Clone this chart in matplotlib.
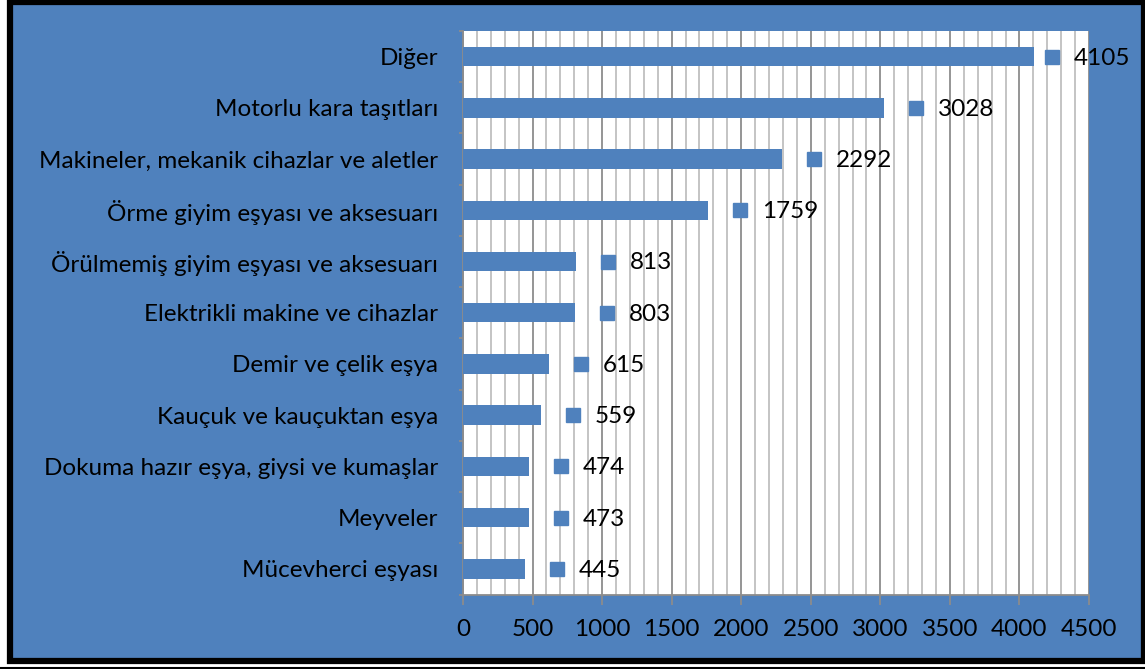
import matplotlib.pyplot as plt
from matplotlib.patches import Rectangle
from matplotlib.ticker import MultipleLocator, FixedLocator
import matplotlib.transforms as mtransforms

categories = [
    "Diğer",
    "Motorlu kara taşıtları",
    "Makineler, mekanik cihazlar ve aletler",
    "Örme giyim eşyası ve aksesuarı",
    "Örülmemiş giyim eşyası ve aksesuarı",
    "Elektrikli makine ve cihazlar",
    "Demir ve çelik eşya",
    "Kauçuk ve kauçuktan eşya",
    "Dokuma hazır eşya, giysi ve kumaşlar",
    "Meyveler",
    "Mücevherci eşyası",
]
values = [4105, 3028, 2292, 1759, 813, 803, 615, 559, 474, 473, 445]

BLUE = "#4F81BD"
plt.rcParams["font.family"] = ["Lato", "DejaVu Sans"]

W, H = 1145, 669
fig = plt.figure(figsize=(W / 100, H / 100), dpi=100, facecolor="white")

# blue chart area with black frame
frame = Rectangle((10 / W, 1 - 661 / H), 1134 / W, 659 / H,
                  transform=fig.transFigure, facecolor=BLUE,
                  edgecolor="black", linewidth=4.5, zorder=-10)
fig.add_artist(frame)
fig.add_artist(plt.Line2D([0, 1], [1 - 667.5 / H] * 2, transform=fig.transFigure,
                          color="black", linewidth=1.5, zorder=-10))

ax = fig.add_axes([463 / W, 1 - 594.5 / H, 626 / W, 563.5 / H])
ax.set_facecolor("white")

y = list(range(len(categories)))
ax.barh(y, values, height=0.38, color=BLUE, zorder=3)
ax.set_xlim(0, 4500)
ax.set_ylim(len(categories) - 0.5, -0.5)

ax.xaxis.set_major_locator(MultipleLocator(500))
ax.xaxis.set_minor_locator(MultipleLocator(100))
ax.grid(axis="x", which="minor", color="#BFBFBF", linewidth=1.3, zorder=0)
ax.grid(axis="x", which="major", color="#8C8C8C", linewidth=1.3, zorder=0)

ax.set_yticks(y)
ax.set_yticklabels(categories, fontsize=17.5)
ax.yaxis.set_minor_locator(FixedLocator([i - 0.5 for i in range(len(categories) + 1)]))
ax.tick_params(axis="y", which="major", length=0, pad=18)
ax.tick_params(axis="y", which="minor", length=3, color="#8C8C8C", width=1.3)
ax.tick_params(axis="x", which="major", length=7, color="#8C8C8C", width=1.3,
               labelsize=17.5, pad=11)
ax.tick_params(axis="x", which="minor", length=0)

for s in ["top", "right"]:
    ax.spines[s].set_visible(False)
for s in ["left", "bottom"]:
    ax.spines[s].set_color("#8C8C8C")
    ax.spines[s].set_linewidth(1.3)

# data labels with legend key
fig.canvas.draw()
for yi, v in zip(y, values):
    px = ax.transData.transform((v, yi))[0]
    shift = min(32, 1052 - px)
    tr = mtransforms.offset_copy(ax.transData, fig=fig, x=shift * 0.72, y=0, units="points")
    ax.plot([v], [yi], marker="s", markersize=10, color=BLUE, transform=tr,
            clip_on=False, zorder=4)
    ax.annotate(str(v), (v, yi), xytext=((shift + 22) * 0.72, -1), textcoords="offset points",
                fontsize=17.5, va="center", ha="left", annotation_clip=False, zorder=5)

fig.savefig("out.png", dpi=100, facecolor="white")
